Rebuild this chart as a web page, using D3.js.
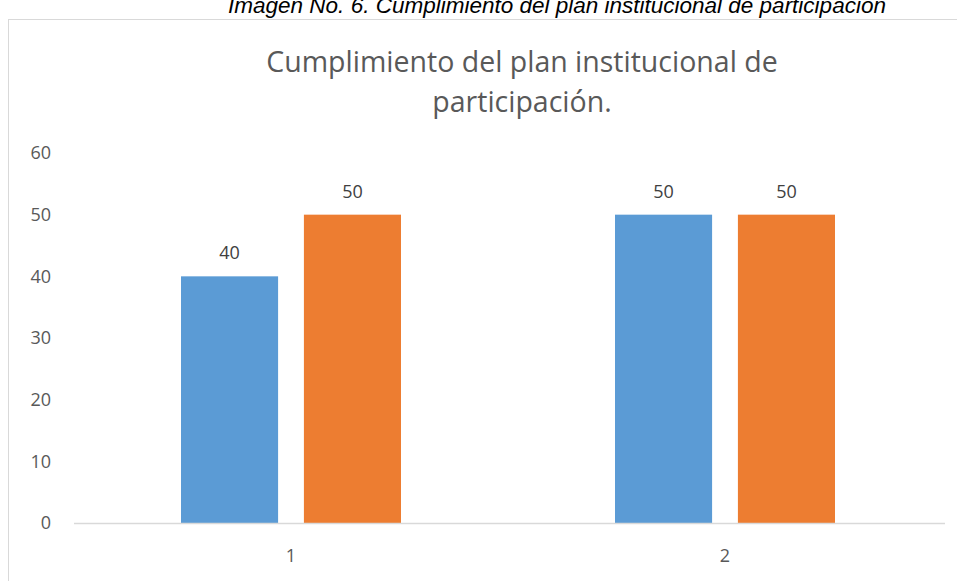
<!DOCTYPE html>
<html>
<head>
<meta charset="utf-8">
<script src="https://cdn.jsdelivr.net/npm/d3@7"></script>
<style>
  body { margin: 0; background: #fff; }
  #chart { width: 957px; height: 581px; overflow: hidden; }
  svg text { font-family: "Open Sans", "Noto Sans", sans-serif; }
</style>
</head>
<body>
<div id="chart"></div>
<script>
// chart data
const categories = ["1", "2"];
const seriesNames = ["Serie 1", "Serie 2"];
const seriesA = [40, 50];
const seriesB = [50, 50];
const yTicks = [0, 10, 20, 30, 40, 50, 60];
const colors = ["#5b9bd5", "#ed7d31"];

const width = 957, height = 581;

const svg = d3.select("#chart")
    .append("svg")
    .attr("width", width)
    .attr("height", height);

// caption above the chart (cut off at the top)
svg.append("text")
    .attr("x", 557)
    .attr("y", 13)
    .attr("text-anchor", "middle")
    .style("font-family", "'Liberation Sans', Arial, sans-serif")
    .style("font-style", "italic")
    .style("font-size", "22.5px")
    .attr("fill", "#000")
    .text("Imagen No. 6. Cumplimiento del plan institucional de participación");

// chart border
svg.append("rect")
    .attr("x", 8.5)
    .attr("y", 19.5)
    .attr("width", 1100)
    .attr("height", 700)
    .attr("fill", "#fff")
    .attr("stroke", "#d9d9d9")
    .attr("stroke-width", 1);

// title
const title = svg.append("text")
    .attr("text-anchor", "middle")
    .attr("fill", "#595959")
    .style("font-size", "28.5px");
title.append("tspan").attr("x", 522).attr("y", 72).text("Cumplimiento del plan institucional de");
title.append("tspan").attr("x", 522).attr("y", 112).text("participación.");

const margin = {top: 153, left: 74, right: 12, bottom: 58};

const x0 = d3.scaleBand()
    .domain(categories)
    .range([margin.left, 942]);

const x1 = d3.scaleBand()
    .domain(seriesNames)
    .range([0, 220])
    .paddingInner(0.21);

const y = d3.scaleLinear()
    .domain([0, 60])
    .range([523, 153]);

// y tick labels
svg.append("g")
    .selectAll("text")
    .data(yTicks)
    .join("text")
    .attr("x", 51)
    .attr("y", d => y(d))
    .attr("dy", "0.35em")
    .attr("text-anchor", "end")
    .attr("fill", "#595959")
    .style("font-size", "18px")
    .text(d => d);

const rows = categories.map((c, i) => ({cat: c, values: [seriesA[i], seriesB[i]]}));

const groups = svg.append("g")
    .selectAll("g")
    .data(rows)
    .join("g")
    .attr("transform", d => `translate(${x0(d.cat) + (x0.bandwidth() - 220) / 2},0)`);

groups.selectAll("rect")
    .data(d => d.values.map((v, i) => ({name: seriesNames[i], v: v, i: i})))
    .join("rect")
    .attr("x", d => x1(d.name))
    .attr("y", d => y(d.v))
    .attr("width", x1.bandwidth())
    .attr("height", d => y(0) - y(d.v))
    .attr("fill", d => colors[d.i]);

groups.selectAll("text")
    .data(d => d.values.map((v, i) => ({name: seriesNames[i], v: v})))
    .join("text")
    .attr("x", d => x1(d.name) + x1.bandwidth() / 2)
    .attr("y", d => y(d.v) - 17)
    .attr("text-anchor", "middle")
    .attr("fill", "#404040")
    .style("font-size", "18px")
    .text(d => d.v);

// x axis line
svg.append("line")
    .attr("x1", margin.left)
    .attr("x2", 945)
    .attr("y1", y(0) + 0.5)
    .attr("y2", y(0) + 0.5)
    .attr("stroke", "#d9d9d9")
    .attr("stroke-width", 1.5);

// x labels
svg.append("g")
    .selectAll("text")
    .data(categories)
    .join("text")
    .attr("x", d => x0(d) + x0.bandwidth() / 2)
    .attr("y", 562)
    .attr("text-anchor", "middle")
    .attr("fill", "#595959")
    .style("font-size", "18px")
    .text(d => d);
</script>
</body>
</html>
